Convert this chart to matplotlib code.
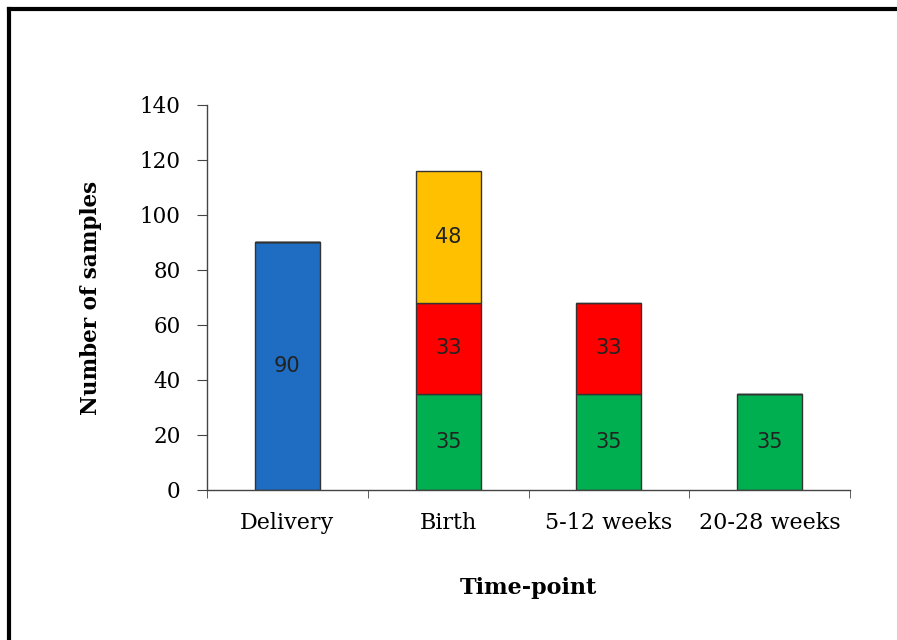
import numpy as np
import matplotlib.pyplot as plt
from matplotlib.lines import Line2D

# Numero de muestras por momento de toma, apiladas por grupo
categorias = ['Delivery', 'Birth', '5-12 weeks', '20-28 weeks']
azul    = [90, 0, 0, 0]
verde   = [0, 35, 35, 35]
rojo    = [0, 33, 33, 0]
naranja = [0, 48, 0, 0]

series = [(azul, '#1F6DC2'), (verde, '#00B050'), (rojo, '#FF0000'), (naranja, '#FFC000')]

fig = plt.figure(figsize=(8.97, 6.4), dpi=100)
ax = fig.add_axes([0.2308, 0.2344, 0.7168, 0.6016])

x = np.arange(len(categorias))
base = np.zeros(len(categorias))
for valores, color in series:
    valores = np.array(valores, dtype=float)
    barras = ax.bar(x, valores, width=0.405, bottom=base, color=color,
                    edgecolor='#333333', linewidth=1.0, zorder=2)
    for b, v in zip(barras, valores):
        if v > 0:
            ax.text(b.get_x() + b.get_width() / 2, b.get_y() + v / 2, '%d' % v,
                    ha='center', va='center', fontsize=15, color='#222222',
                    family='DejaVu Sans')
    base = base + valores

ax.set_xlim(-0.5, len(categorias) - 0.5)
ax.set_ylim(0, 140)
ax.set_yticks(np.arange(0, 141, 20))
ax.set_yticklabels([str(v) for v in range(0, 141, 20)], family='DejaVu Serif', fontsize=15.5)

# Etiquetas de categoria centradas, ticks en los limites entre grupos
ax.set_xticks(x)
ax.set_xticklabels(categorias, family='DejaVu Serif', fontsize=16)
ax.tick_params(axis='x', length=0, pad=16)
ax.set_xticks(np.arange(-0.5, len(categorias), 1.0), minor=True)
ax.tick_params(axis='x', which='minor', length=6, direction='out', color='#444444')
ax.tick_params(axis='y', length=7, direction='out', color='#444444', pad=12)

for lado in ['top', 'right']:
    ax.spines[lado].set_visible(False)
for lado in ['left', 'bottom']:
    ax.spines[lado].set_color('#444444')
    ax.spines[lado].set_linewidth(1.0)

ax.set_ylabel('Number of samples', family='DejaVu Serif', fontweight='bold',
              fontsize=15.5, labelpad=27)
ax.set_xlabel('Time-point', family='DejaVu Serif', fontweight='bold',
              fontsize=16, labelpad=31)

# Marco negro superior e izquierdo
fig.add_artist(Line2D([0.0095, 1.0], [0.9860, 0.9860], transform=fig.transFigure,
                      color='black', linewidth=3))
fig.add_artist(Line2D([0.0095, 0.0095], [0.0, 0.9860], transform=fig.transFigure,
                      color='black', linewidth=3))

fig.savefig('out.png', dpi=100)
